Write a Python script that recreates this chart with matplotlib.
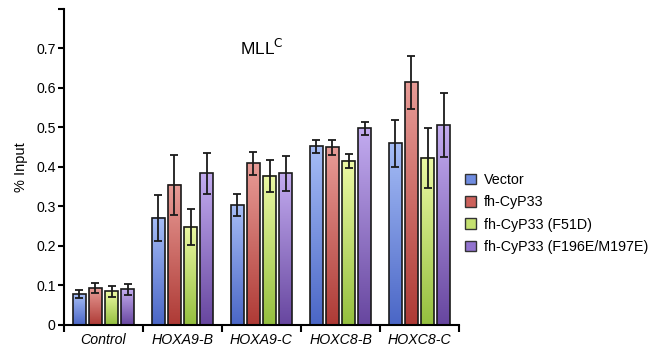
import numpy as np
import matplotlib
matplotlib.use("Agg")
import matplotlib.pyplot as plt
from matplotlib.patches import Patch
from matplotlib.colors import LinearSegmentedColormap

plt.rcParams['font.family'] = ['Liberation Sans', 'DejaVu Sans']

groups = ["Control", "HOXA9-B", "HOXA9-C", "HOXC8-B", "HOXC8-C"]
series = ["Vector", "fh-CyP33", "fh-CyP33 (F51D)", "fh-CyP33 (F196E/M197E)"]
vector = [0.078, 0.271, 0.303, 0.452, 0.459]
cyp33 = [0.093, 0.354, 0.409, 0.449, 0.613]
f51d = [0.085, 0.248, 0.377, 0.415, 0.423]
f196e = [0.090, 0.383, 0.383, 0.497, 0.505]
vector_err = [0.011, 0.058, 0.028, 0.016, 0.059]
cyp33_err = [0.012, 0.076, 0.029, 0.019, 0.068]
f51d_err = [0.014, 0.045, 0.040, 0.017, 0.076]
f196e_err = [0.014, 0.051, 0.044, 0.017, 0.081]

values = [vector, cyp33, f51d, f196e]
errors = [vector_err, cyp33_err, f51d_err, f196e_err]
top_colors = ["#a6bdf6", "#e89c97", "#ecf9a4", "#c3acf0"]
bot_colors = ["#4a66c6", "#ae3a35", "#94bf3e", "#67469f"]
mid_colors = ["#6f8ce0", "#cc615b", "#c4e070", "#9273cf"]

fig = plt.figure(figsize=(6.51, 3.54), dpi=100)
ax = fig.add_axes([64/651, 1-325/354, 395/651, (325-8.5)/354])

pitch = 0.204
width = 0.164
centers = np.arange(len(groups)) + 0.5
for s in range(4):
    cmap = LinearSegmentedColormap.from_list("g%d" % s, [bot_colors[s], top_colors[s]])
    grad = np.linspace(0, 1, 256).reshape(-1, 1)
    xs = centers + (s - 1.5) * pitch
    for x, v in zip(xs, values[s]):
        ax.imshow(grad, extent=[x - width/2, x + width/2, 0, v], origin='lower',
                  cmap=cmap, aspect='auto', zorder=1, interpolation='bilinear')
    ax.bar(xs, values[s], width=width, facecolor='none', edgecolor='#1a1a1a',
           linewidth=1.2, zorder=2)
    ax.errorbar(xs, values[s], yerr=errors[s], fmt='none', ecolor='#1a1a1a',
                elinewidth=1.3, capsize=2.8, capthick=1.3, zorder=3)

ax.set_xlim(0, 5)
ax.set_ylim(0, 0.8)
ax.spines['top'].set_visible(False)
ax.spines['right'].set_visible(False)
ax.spines['left'].set_linewidth(1.5)
ax.spines['bottom'].set_linewidth(1.5)
ax.set_yticks([0, 0.1, 0.2, 0.3, 0.4, 0.5, 0.6, 0.7, 0.8])
ax.set_yticklabels(["0", "0.1", "0.2", "0.3", "0.4", "0.5", "0.6", "0.7", ""])
ax.set_xticks(np.arange(0, 6))
ax.set_xticklabels([])
ax.set_xticks(centers, minor=True)
ax.set_xticklabels(groups, minor=True, fontstyle='italic', fontsize=10.2)
ax.tick_params(axis='x', which='minor', length=0, pad=6)
ax.tick_params(axis='x', which='major', length=5, width=1.5, direction='out')
ax.tick_params(axis='y', length=4, width=1.5, direction='out', labelsize=10.2, pad=2)
ax.set_ylabel("% Input", fontsize=10.5, labelpad=6)

ax.text(2.5, 0.7, r"MLL$^{\mathrm{C}}$", fontsize=12.5, ha='center', va='center')

handles = [Patch(facecolor=mid_colors[i], edgecolor='#333333', linewidth=1.0) for i in range(4)]
fig.legend(handles, series, loc='upper left', bbox_to_anchor=(465/651, 1-173/354),
           frameon=False, fontsize=10.3, handlelength=0.75, handleheight=0.75,
           handletextpad=0.6, labelspacing=0.58, borderpad=0, borderaxespad=0)

fig.savefig("out.png", dpi=100)
